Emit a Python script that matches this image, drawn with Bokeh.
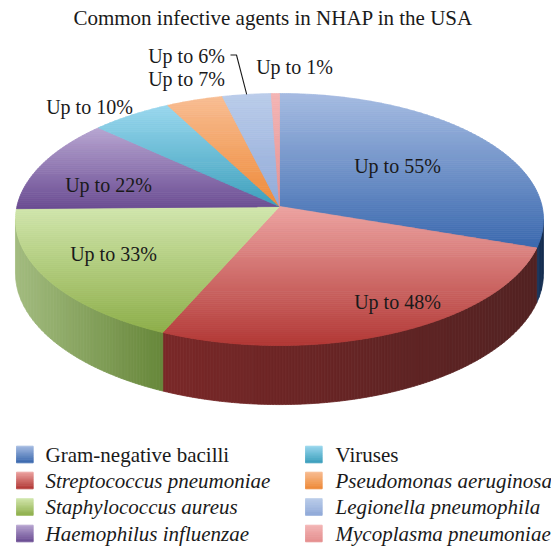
import numpy as np
from bokeh.plotting import figure
from bokeh.models import Range1d
from bokeh.core.properties import value
from bokeh.embed import file_html
from bokeh.resources import INLINE

# ---------------- data ----------------
title = "Common infective agents in NHAP in the USA"
categories = ["Gram-negative bacilli", "Streptococcus pneumoniae", "Staphylococcus aureus",
              "Haemophilus influenzae", "Viruses", "Pseudomonas aeruginosa",
              "Legionella pneumophila", "Mycoplasma pneumoniae"]
values = [55, 48, 33, 22, 10, 7, 6, 1]
labels = ["Up to 55%", "Up to 48%", "Up to 33%", "Up to 22%",
          "Up to 10%", "Up to 7%", "Up to 6%", "Up to 1%"]
italic = [False, True, True, True, False, True, True, True]

# ---------------- styles ----------------
top_light = ["#A6BCE2", "#EDA4A2", "#D2E7AE", "#B8A6D2", "#9AD8EE", "#F8BD93", "#BBCDEA", "#F3B6B6"]
top_dark = ["#3A68AE", "#B23835", "#8EAF4A", "#6A4C92", "#3C9FBC", "#EE8A38", "#90A9D8", "#E58F8F"]
side_light = ["#1D3D66", "#7A2828", "#A3BC80", "#4A3466", "#2A7088", "#B0602A", "#5C7096", "#A05E5E"]
side_dark = ["#12284A", "#522222", "#67873A", "#3A2852", "#1E5668", "#8A4A20", "#485A7C", "#804848"]
legend_light = top_light
legend_dark = top_dark

FONT = "Liberation Serif"
TXT = "#1a1a1a"
TSHIFT = -7.0   # renderer baseline correction

# pie geometry (screen pixels), mild perspective
CX, CY = 279.0, 206.0
R, B, K = 262.6, 124.65, 0.1031
DEPTH = 53.0

# layout of labels: (x center, baseline y)
label_pos = [(397, 172), (397, 308), (113, 260), (108, 191),
             (89, 113), (186, 85), (186, 62), (294, 73)]
leader_elbow = [(230, 54.5), (236, 54.5)]

legend_rows = [454, 480, 506.5, 533]
legend_cols = [(16, 45), (305, 335)]
SQ = 16.7


def proj(theta_deg, r=1.0):
    t = np.radians(theta_deg)
    u = r * np.sin(t)
    v = -r * np.cos(t)
    w = 1 - K * v
    return CX + R * u / w, CY + B * v / w, w


def hex2rgb(h):
    h = h.lstrip("#")
    return np.array([int(h[i:i + 2], 16) for i in (0, 2, 4)], dtype=float)


def mix(c1, c2, t):
    a, b = hex2rgb(c1), hex2rgb(c2)
    c = a + (b - a) * t
    return "#%02x%02x%02x" % tuple(int(round(x)) for x in c)


def clip_half(pts, keep, inter):
    out = []
    n = len(pts)
    for i in range(n):
        cur, prev = pts[i], pts[i - 1]
        cin, pin = keep(cur), keep(prev)
        if cin:
            if not pin:
                out.append(inter(prev, cur))
            out.append(cur)
        elif pin:
            out.append(inter(prev, cur))
    return out


def clip_band(poly, axis, lo, hi):
    def inter_at(c):
        def f(p, q):
            d = q[axis] - p[axis]
            t = 0.0 if d == 0 else (c - p[axis]) / d
            return (p[0] + t * (q[0] - p[0]), p[1] + t * (q[1] - p[1]))
        return f
    pts = clip_half(poly, lambda p: p[axis] >= lo, inter_at(lo))
    if len(pts) < 3:
        return []
    pts = clip_half(pts, lambda p: p[axis] <= hi, inter_at(hi))
    return pts if len(pts) >= 3 else []


xs_all, ys_all, col_all = [], [], []


def add_gradient(poly, axis, c_light, c_dark, step):
    arr = np.array(poly)
    lo, hi = arr[:, axis].min(), arr[:, axis].max()
    n = max(1, int(np.ceil((hi - lo) / step)))
    edges = np.linspace(lo, hi, n + 1)
    for i in range(n):
        piece = clip_band(poly, axis, edges[i], edges[i + 1])
        if not piece:
            continue
        t = (i + 0.5) / n
        xs_all.append([p[0] for p in piece])
        ys_all.append([p[1] for p in piece])
        col_all.append(mix(c_light, c_dark, t))


total = float(sum(values))
angles = np.concatenate([[0], np.cumsum(values) / total * 360.0])
sil_a = np.degrees(np.arccos(-K))          # silhouette angles
sil_b = 360.0 - sil_a

# side faces
for i in range(len(values)):
    a0, a1 = max(angles[i], sil_a), min(angles[i + 1], sil_b)
    if a1 <= a0:
        continue
    th = np.linspace(a0, a1, max(3, int((a1 - a0) * 2)))
    x, y, w = proj(th)
    top = list(zip(x, y))
    bot = list(zip(x, y + DEPTH / w))[::-1]
    add_gradient(top + bot, 0, side_light[i], side_dark[i], 3.0)

# top faces
for i in range(len(values)):
    a0, a1 = angles[i], angles[i + 1]
    th = np.linspace(a0, a1, max(3, int((a1 - a0) * 2) + 2))
    x, y, _ = proj(th)
    poly = [(CX, CY)] + list(zip(x, y))
    add_gradient(poly, 1, top_light[i], top_dark[i], 2.0)

# legend squares
for i in range(len(categories)):
    col, row = divmod(i, 4)
    x0 = legend_cols[col][0]
    yc = legend_rows[row]
    sq = [(x0, yc - SQ / 2), (x0 + SQ, yc - SQ / 2), (x0 + SQ, yc + SQ / 2), (x0, yc + SQ / 2)]
    add_gradient(sq, 1, legend_light[i], legend_dark[i], 2.0)

p = figure(width=551, height=547, output_backend="svg", toolbar_location=None,
           x_range=Range1d(0, 551), y_range=Range1d(547, 0), min_border=0)
p.axis.visible = False
p.grid.visible = False
p.outline_line_color = None
p.background_fill_color = "white"
p.border_fill_color = "white"

p.patches(xs_all, ys_all, fill_color=col_all, line_color=col_all, line_width=0.8)

# title
p.text([272.7], [24 + TSHIFT], text=[title], text_font=value(FONT), text_font_size="21px",
       text_align="center", text_baseline="alphabetic", text_color=TXT)

# slice labels
p.text([q[0] for q in label_pos], [q[1] + TSHIFT for q in label_pos], text=labels,
       text_font=value(FONT), text_font_size="20px", text_align="center",
       text_baseline="alphabetic", text_color=TXT)

# leader line for the Legionella slice
mid = (angles[6] + angles[7]) / 2
ex, ey, _ = proj(mid)
p.line([leader_elbow[0][0], leader_elbow[1][0], float(ex)],
       [leader_elbow[0][1], leader_elbow[1][1], float(ey)],
       line_color="#1a1a1a", line_width=1.1)

# legend text
for i, name in enumerate(categories):
    col, row = divmod(i, 4)
    p.text([legend_cols[col][1]], [legend_rows[row] + 7.3 + TSHIFT], text=[name],
           text_font=value(FONT), text_font_size="21px",
           text_font_style="italic" if italic[i] else "normal",
           text_align="left", text_baseline="alphabetic", text_color=TXT)

open("out.html", "w").write(file_html(p, INLINE))
